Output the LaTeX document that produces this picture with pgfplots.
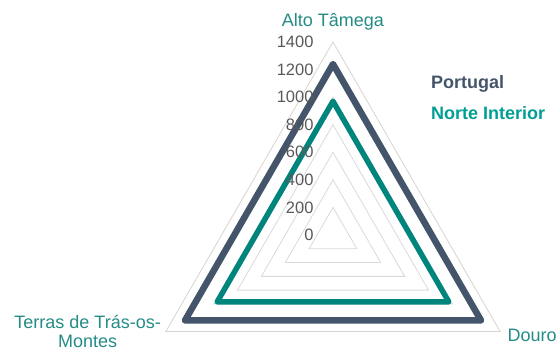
\documentclass[border=0pt]{standalone}
\usepackage{fontspec}
\setmainfont{Liberation Sans}
\usepackage{pgfplots}
\pgfplotsset{compat=1.18}
\definecolor{pt}{HTML}{44546A}
\definecolor{ni}{HTML}{00857D}
\definecolor{nitext}{HTML}{009E94}
\definecolor{cat}{HTML}{238C85}
\definecolor{gridc}{HTML}{D9D9D9}
\definecolor{outerc}{HTML}{D9D3CD}
\definecolor{tick}{HTML}{595959}
\begin{document}
\begin{tikzpicture}
\begin{axis}[
  width=557bp, height=351bp, scale only axis,
  xmin=-2415.5, xmax=1624.9, ymin=-841.5, ymax=1704.7,
  hide axis, clip=false,
  font=\fontsize{18bp}{21bp}\selectfont,
]
\path (rel axis cs:0,0) rectangle (rel axis cs:1,1);
% grid triangles
\pgfplotsinvokeforeach{200,400,600,800,1000,1200}{
  \addplot[draw=gridc, line width=0.8bp, data cs=polar, forget plot] coordinates {(90,#1) (210,#1) (330,#1)} -- cycle;
}
\addplot[draw=outerc, line width=0.8bp, data cs=polar, forget plot] coordinates {(90,1400) (210,1400) (330,1400)} -- cycle;
% series
\addplot[draw=pt, line width=6.5bp, line join=round, data cs=polar] coordinates {(90,1240) (210,1240) (330,1240)} -- cycle;
\addplot[draw=ni, line width=5.5bp, line join=round, data cs=polar] coordinates {(90,970) (210,970) (330,970)} -- cycle;
% tick labels
\pgfplotsinvokeforeach{0,200,400,600,800,1000,1200,1400}{
  \node[anchor=east, text=tick, inner sep=0pt, font=\fontsize{16.5bp}{19bp}\selectfont] at (axis cs:-140,#1) {#1};
}
% category labels
\node[text=cat, anchor=base, inner sep=0pt] at (axis cs:0,1510) {Alto Tâmega};
\node[text=cat, anchor=west, inner sep=0pt] at (axis cs:1265,-725) {Douro};
\node[text=cat, align=center, anchor=north, inner sep=0pt] at (axis cs:-1780,-580) {Terras de Trás-os-\\[-2bp]Montes};
% legend
\node[text=pt, anchor=west, inner sep=0pt, font=\fontsize{18bp}{21bp}\selectfont\bfseries] at (axis cs:711,1095) {Portugal};
\node[text=nitext, anchor=west, inner sep=0pt, font=\fontsize{18bp}{21bp}\selectfont\bfseries] at (axis cs:711,885) {Norte Interior};
\end{axis}
\end{tikzpicture}
\end{document}
